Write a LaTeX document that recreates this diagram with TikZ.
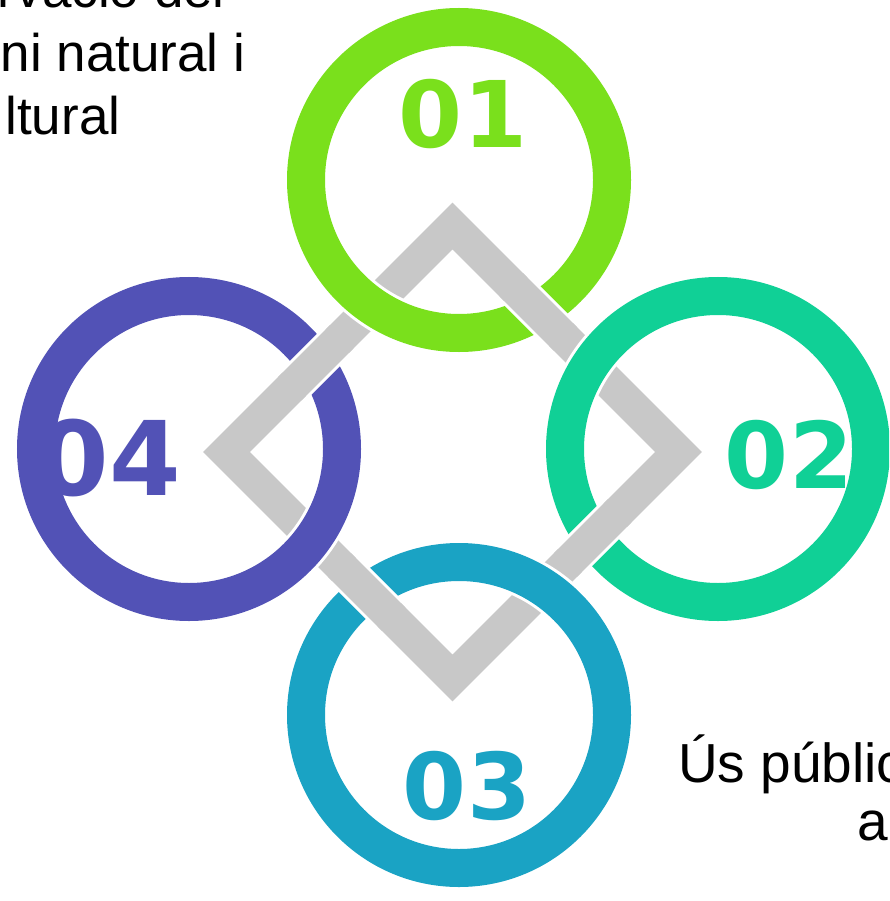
\documentclass[tikz,border=0pt]{standalone}
\usepackage{fontspec}
\setmainfont{Liberation Sans}
\newfontfamily\numfont{DejaVu Sans}
\usetikzlibrary{calc}
\definecolor{cgreen}{RGB}{122,224,28}
\definecolor{cteal}{RGB}{16,208,150}
\definecolor{cblue}{RGB}{26,163,196}
\definecolor{cpurple}{RGB}{82,82,182}
\definecolor{cgray}{RGB}{200,200,200}
\begin{document}
\begin{tikzpicture}[x=1pt,y=-1pt,
  band/.style={draw=cgray,line width=33pt,line join=miter},
  bandhalo/.style={draw=white,line width=39pt},
  ringhalo/.style={draw=white,line width=44pt},
  ringline/.style={line width=38pt},
  num/.style={font=\numfont\bfseries\fontsize{92}{92}\selectfont,inner sep=0pt},
  lbl/.style={font=\fontsize{53}{63}\selectfont,inner sep=0pt,anchor=base east},
  lblb/.style={font=\fontsize{55}{63}\selectfont,inner sep=0pt,anchor=base west}]
\useasboundingbox (0,0) rectangle (889,901);
\fill[white] (0,0) rectangle (889,901);
\clip (0,0) rectangle (889,901);
% diamond vertices
\coordinate (T) at (452.5,226);
\coordinate (R) at (678.5,452);
\coordinate (B) at (452.5,678);
\coordinate (L) at (226.5,452);
% ring centres
\coordinate (O1) at (459,180);
\coordinate (O2) at (718,449);
\coordinate (O3) at (459,715);
\coordinate (O4) at (189,449);
% diamond
\draw[band] (T) -- (R) -- (B) -- (L) -- cycle;
% rings
\draw[ringhalo] (O1) circle[radius=153pt];
\draw[ringline,draw=cgreen] (O1) circle[radius=153pt];
\draw[ringhalo] (O2) circle[radius=153pt];
\draw[ringline,draw=cteal] (O2) circle[radius=153pt];
\draw[ringhalo] (O3) circle[radius=153pt];
\draw[ringline,draw=cblue] (O3) circle[radius=153pt];
\draw[ringhalo] (O4) circle[radius=153pt];
\draw[ringline,draw=cpurple] (O4) circle[radius=153pt];
% band passing over the rings
\draw[bandhalo] ($(T)!0.28!(R)$) -- ($(T)!0.48!(R)$);
\draw[band] ($(T)!0.26!(R)$) -- ($(T)!0.50!(R)$);
\draw[bandhalo] ($(R)!0.28!(B)$) -- ($(R)!0.48!(B)$);
\draw[band] ($(R)!0.26!(B)$) -- ($(R)!0.50!(B)$);
\draw[bandhalo] ($(B)!0.28!(L)$) -- ($(B)!0.48!(L)$);
\draw[band] ($(B)!0.26!(L)$) -- ($(B)!0.50!(L)$);
\draw[bandhalo] ($(L)!0.30!(T)$) -- ($(L)!0.49!(T)$);
\draw[band] ($(L)!0.28!(T)$) -- ($(L)!0.51!(T)$);
% numbers
\node[num,text=cgreen] (n1) at (463,114) {01};
\node[num,text=cteal] (n2) at (789,455) {02};
\node[num,text=cblue] (n3) at (467,786) {03};
\node[num,text=cpurple,font=\numfont\bfseries\fontsize{103}{103}\selectfont] (n4) at (109,458) {04};
% texts
\node[lbl] (t1) at (225,8) {rvació del};
\node[lbl] (t2) at (245.5,72) {ni natural i};
\node[lbl] (t3) at (120.5,135) {ltural};
\node[lblb] (t4) at (678,782) {Ús públic};
\node[lblb] (t5) at (857,840) {a};
\end{tikzpicture}
\end{document}
